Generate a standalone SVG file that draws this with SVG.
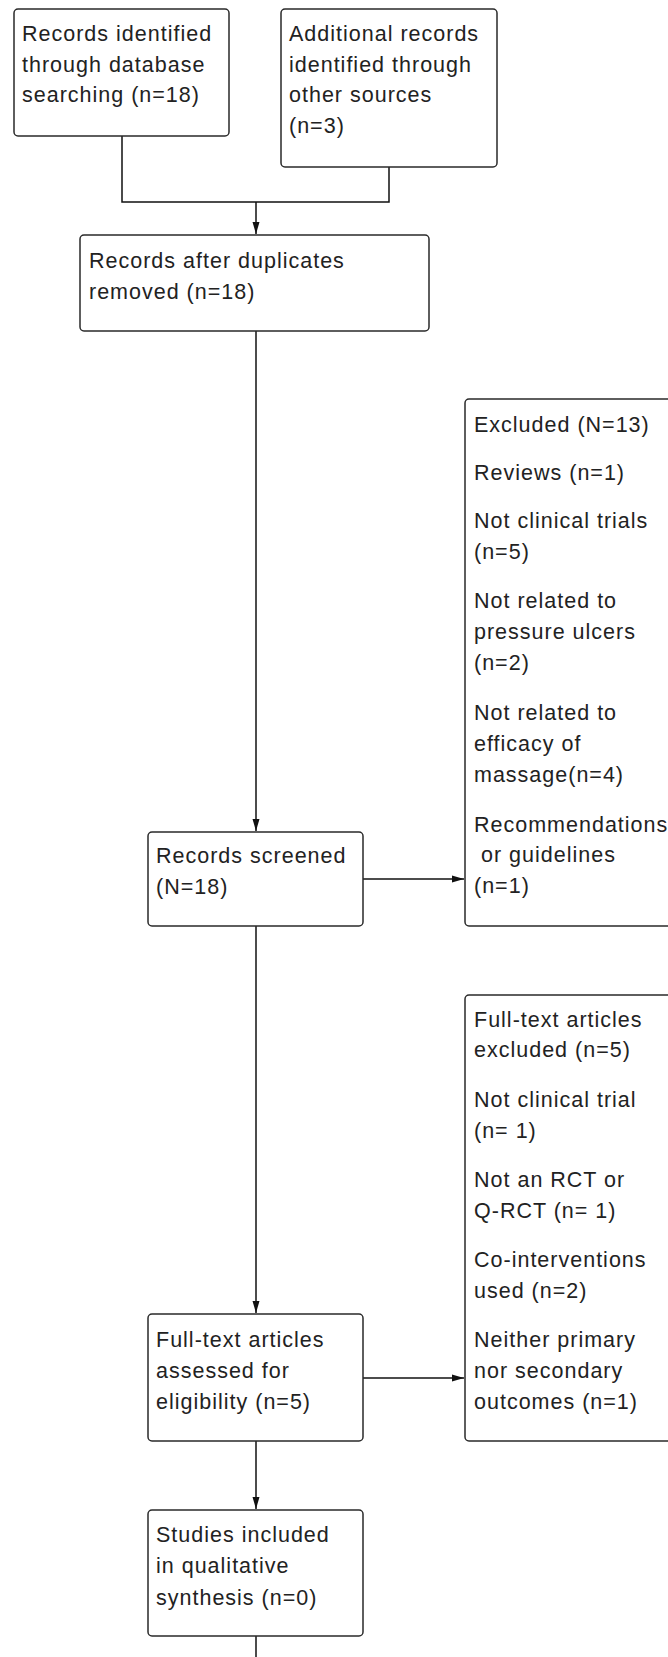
<svg xmlns="http://www.w3.org/2000/svg" width="668" height="1657" viewBox="0 0 668 1657">
  <style>
    .box { fill: #ffffff; stroke: #2a2a2a; stroke-width: 1.5; }
    .t { font-family: "Liberation Sans", Arial, sans-serif; font-size: 21.5px; letter-spacing: 1px; fill: #222222; }
    .c { fill: none; stroke: #111111; stroke-width: 1.5; }
  </style>
  <defs>
    <marker id="arr" markerUnits="userSpaceOnUse" markerWidth="13" markerHeight="8" refX="12" refY="4" orient="auto">
      <path d="M0,0.5 L12,4 L0,7.5 z" fill="#111111"/>
    </marker>
  </defs>
  <rect width="668" height="1657" fill="#ffffff"/>

  <g id="connectors">
    <path class="c" d="M122,136 V202 H389 V167"/>
    <path class="c" d="M256,202 V234" marker-end="url(#arr)"/>
    <path class="c" d="M256,331 V831" marker-end="url(#arr)"/>
    <path class="c" d="M363,879 H464" marker-end="url(#arr)"/>
    <path class="c" d="M256,926 V1313" marker-end="url(#arr)"/>
    <path class="c" d="M363,1378 H464" marker-end="url(#arr)"/>
    <path class="c" d="M256,1441 V1509" marker-end="url(#arr)"/>
    <path class="c" d="M256,1636 V1657"/>
  </g>

  <g id="node-database">
    <rect class="box" x="14" y="9" width="215" height="127" rx="4"/>
    <text class="t" x="22" y="41">Records identified</text>
    <text class="t" x="22" y="71.5">through database</text>
    <text class="t" x="22" y="102">searching (n=18)</text>
  </g>

  <g id="node-other">
    <rect class="box" x="281" y="9" width="216" height="158" rx="4"/>
    <text class="t" x="289" y="41">Additional records</text>
    <text class="t" x="289" y="71.5">identified through</text>
    <text class="t" x="289" y="102">other sources</text>
    <text class="t" x="289" y="132.5">(n=3)</text>
  </g>

  <g id="node-duplicates">
    <rect class="box" x="80" y="235" width="349" height="96" rx="4"/>
    <text class="t" x="89" y="268">Records after duplicates</text>
    <text class="t" x="89" y="298.5">removed (n=18)</text>
  </g>

  <g id="node-screened">
    <rect class="box" x="148" y="832" width="215" height="94" rx="4"/>
    <text class="t" x="156" y="863">Records screened</text>
    <text class="t" x="156" y="894">(N=18)</text>
  </g>

  <g id="node-excluded">
    <rect class="box" x="465" y="399" width="230" height="527" rx="4"/>
    <text class="t" x="474" y="432">Excluded (N=13)</text>
    <text class="t" x="474" y="480">Reviews (n=1)</text>
    <text class="t" x="474" y="528">Not clinical trials</text>
    <text class="t" x="474" y="559">(n=5)</text>
    <text class="t" x="474" y="608">Not related to</text>
    <text class="t" x="474" y="639">pressure ulcers</text>
    <text class="t" x="474" y="670">(n=2)</text>
    <text class="t" x="474" y="720">Not related to</text>
    <text class="t" x="474" y="751">efficacy of</text>
    <text class="t" x="474" y="782">massage(n=4)</text>
    <text class="t" x="474" y="832">Recommendations</text>
    <text class="t" x="481" y="862">or guidelines</text>
    <text class="t" x="474" y="893">(n=1)</text>
  </g>

  <g id="node-fulltext-assessed">
    <rect class="box" x="148" y="1314" width="215" height="127" rx="4"/>
    <text class="t" x="156" y="1347">Full-text articles</text>
    <text class="t" x="156" y="1378">assessed for</text>
    <text class="t" x="156" y="1409">eligibility (n=5)</text>
  </g>

  <g id="node-fulltext-excluded">
    <rect class="box" x="465" y="995" width="230" height="446" rx="4"/>
    <text class="t" x="474" y="1027">Full-text articles</text>
    <text class="t" x="474" y="1057">excluded (n=5)</text>
    <text class="t" x="474" y="1107">Not clinical trial</text>
    <text class="t" x="474" y="1138">(n= 1)</text>
    <text class="t" x="474" y="1187">Not an RCT or</text>
    <text class="t" x="474" y="1218">Q-RCT (n= 1)</text>
    <text class="t" x="474" y="1267">Co-interventions</text>
    <text class="t" x="474" y="1298">used (n=2)</text>
    <text class="t" x="474" y="1347">Neither primary</text>
    <text class="t" x="474" y="1378">nor secondary</text>
    <text class="t" x="474" y="1409">outcomes (n=1)</text>
  </g>

  <g id="node-included">
    <rect class="box" x="148" y="1510" width="215" height="126" rx="4"/>
    <text class="t" x="156" y="1542">Studies included</text>
    <text class="t" x="156" y="1573">in qualitative</text>
    <text class="t" x="156" y="1605">synthesis (n=0)</text>
  </g>
</svg>
